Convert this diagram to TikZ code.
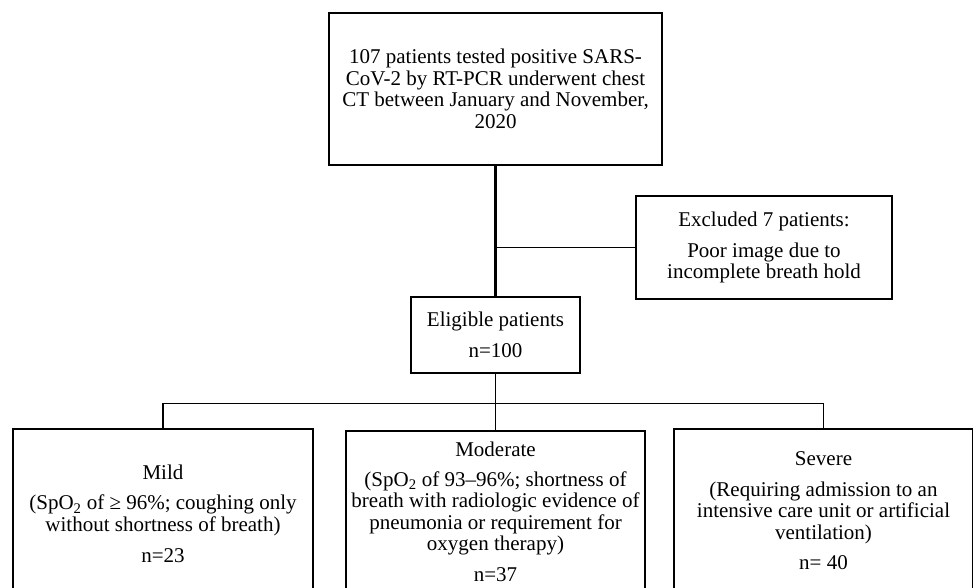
\documentclass[tikz,border=0pt]{standalone}
\usepackage{fontspec}
\setmainfont{Liberation Serif}
\usetikzlibrary{positioning,calc}

\begin{document}
\begin{tikzpicture}[x=1pt, y=-1pt, line join=miter,
  box/.style={draw, line width=1.5pt, align=center, inner sep=4pt,
    font=\fontsize{21}{21.5}\selectfont},
  link/.style={line width=1.4pt},
  trunk/.style={line width=3pt}]
% page frame (bottom boxes run past the lower edge)
\clip (0,0) rectangle (973,588);
\fill[white] (0,0) rectangle (973,588);
% flow boxes
\node[box, minimum width=333, minimum height=152] (tested) at (495.5,89)
  {107 patients tested positive SARS-\\CoV-2 by RT-PCR underwent chest\\CT between January and November,\\2020};
\node[box, minimum width=256, minimum height=103] (excluded) at (764,247.5)
  {Excluded 7 patients:\\[9pt]Poor image due to\\incomplete breath hold};
\node[box, minimum width=169, minimum height=76] (eligible) at (495.5,335)
  {Eligible patients\\[9pt]n=100};
% severity groups
\node[box, minimum width=300, minimum height=170] (mild) at (163,514)
  {Mild\\[9pt](SpO\textsubscript{2} of ≥ 96\%; coughing only\\without shortness of breath)\\[10pt]n=23};
\node[box, line width=2pt, minimum width=299, minimum height=162] (moderate) at (495.5,512)
  {Moderate\\[8pt](SpO\textsubscript{2} of 93–96\%; shortness of\\breath with radiologic evidence of\\pneumonia or requirement for\\oxygen therapy)\\[9pt]n=37};
\node[box, minimum width=299, minimum height=164] (severe) at (823.5,511)
  {Severe\\[9pt](Requiring admission to an\\intensive care unit or artificial\\ventilation)\\[9pt]n= 40};
% connectors
\draw[trunk] (tested.south) -- (eligible.north);
\draw[link] (excluded.west) -- (excluded.west -| tested.south);
\coordinate (split) at ($(eligible.south)+(0,30)$);
\draw[link] (eligible.south) -- (split);
\draw[link] (mild.north) |- (split) -| (severe.north);
\draw[link] (split) -- (moderate.north);
\end{tikzpicture}
\end{document}
